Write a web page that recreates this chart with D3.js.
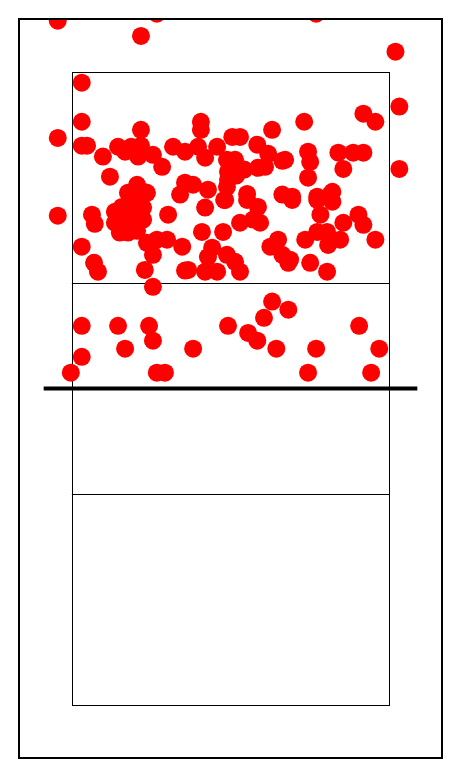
<!DOCTYPE html>
<html><head><meta charset="utf-8">
<script src="https://cdn.jsdelivr.net/npm/d3@7"></script>
<style>html,body{margin:0;padding:0;background:#fff;}</style>
</head><body>
<svg id="c" width="460" height="777"></svg>
<script>
// court geometry (meters)
const courtWidth = 9, courtLength = 18;
const attackLines = [6, 12];
const netY = 9, netExtent = [-0.8, 9.8];
const xDomain = [-1.5, 10.5], yDomain = [-1.5, 19.5];

// dot positions (meters): x across court, y along court from top baseline
const dotX = [-0.40,2.41,6.93,1.96,9.18,0.28,9.29,-0.40,9.29,-0.40,
0.28,1.96,3.66,3.66,5.68,6.59,8.27,8.61,0.28,0.43,
0.88,1.08,1.31,1.51,1.68,1.88,1.96,2.30,2.56,2.87,
3.21,3.58,3.78,4.12,4.40,4.55,4.77,4.63,5.26,5.57,
5.97,5.28,5.48,4.43,4.43,4.66,4.89,3.44,3.86,3.21,
4.32,4.97,5.97,4.40,6.05,6.70,6.76,7.56,7.98,8.27,
7.70,6.70,6.25,6.96,7.39,1.85,2.02,1.68,1.59,1.93,
2.13,0.28,0.57,0.65,0.63,0.74,1.42,1.65,2.02,1.22,
1.36,1.59,1.79,2.13,2.41,2.70,2.30,2.07,2.30,2.73,
3.07,3.13,3.21,3.78,4.35,4.97,5.28,4.77,5.34,5.14,
3.69,4.29,3.98,3.86,4.40,4.63,4.77,3.30,3.78,4.12,
5.63,5.85,5.97,6.14,6.25,6.96,7.33,7.39,7.05,7.70,
8.13,8.27,8.61,6.96,7.24,7.61,6.62,7.27,6.19,6.76,
7.24,1.22,1.65,2.02,1.85,
-0.03,0.28,0.28,1.31,1.51,2.19,2.30,2.41,2.64,3.44,
4.43,5.00,5.26,5.45,5.68,6.14,5.80,6.70,6.93,8.15,
8.49,8.72];
const dotY = [-1.45,-1.65,-1.65,-1.02,-0.57,0.31,0.99,1.88,2.76,4.09,
1.42,1.65,1.42,1.65,1.65,1.42,1.19,1.42,2.10,2.10,
2.41,2.98,2.13,2.27,2.13,2.41,2.10,2.36,2.70,2.13,
2.27,2.13,2.44,2.13,2.50,1.85,1.85,2.50,2.07,2.33,
2.53,2.73,2.70,2.84,3.07,2.95,2.78,3.21,3.35,3.15,
3.64,3.47,3.49,3.27,2.50,2.27,2.56,2.30,2.30,2.30,
2.76,3.01,3.55,3.55,3.41,3.21,3.41,3.49,3.44,3.44,
3.44,4.97,4.06,4.32,5.43,5.68,3.84,3.84,3.86,4.29,
4.57,4.57,4.35,4.86,4.77,4.77,5.20,5.63,6.11,4.06,
3.49,4.97,5.65,3.86,3.64,3.64,3.84,4.29,4.29,4.20,
4.55,4.55,5.00,5.26,5.20,5.40,5.68,5.63,5.68,5.68,
4.97,4.77,5.20,5.43,3.64,3.64,3.49,3.69,4.06,4.29,
4.06,4.35,4.77,4.55,4.55,4.77,4.77,4.92,5.34,5.43,
5.68,3.98,4.20,4.20,4.52,
8.55,8.10,7.22,7.22,7.87,7.22,7.64,8.55,8.55,7.87,
7.22,7.42,7.64,6.99,6.53,6.76,7.87,8.55,7.87,7.22,
8.55,7.87];

const svg = d3.select('#c');
const x = d3.scaleLinear().domain(xDomain).range([19, 442]);
const y = d3.scaleLinear().domain(yDomain).range([19, 758]);

svg.append('defs').append('clipPath').attr('id','clip')
  .append('rect').attr('x',x(xDomain[0])).attr('y',y(yDomain[0]))
  .attr('width',x(xDomain[1])-x(xDomain[0])).attr('height',y(yDomain[1])-y(yDomain[0]));

const g = svg.append('g').attr('clip-path','url(#clip)');

// court outline
g.append('rect').attr('x',Math.round(x(0))+0.5).attr('y',Math.round(y(0))+0.5)
  .attr('width',Math.round(x(courtWidth)-x(0))).attr('height',Math.round(y(courtLength)-y(0)))
  .attr('fill','none').attr('stroke','#000').attr('stroke-width',1);
attackLines.forEach(a => {
  g.append('line').attr('x1',x(0)).attr('x2',x(courtWidth))
    .attr('y1',Math.round(y(a))+0.5).attr('y2',Math.round(y(a))+0.5).attr('stroke','#000').attr('stroke-width',1);
});
// net
g.append('line').attr('x1',x(netExtent[0])).attr('x2',x(netExtent[1]))
  .attr('y1',y(netY)).attr('y2',y(netY)).attr('stroke','#000').attr('stroke-width',4);

// dots
const pts = dotX.map((d,i)=>({x:d,y:dotY[i]}));
g.selectAll('circle').data(pts).enter().append('circle')
  .attr('cx',d=>x(d.x)).attr('cy',d=>y(d.y)).attr('r',9).attr('fill','#ff0000');

// frame
svg.append('rect').attr('x',x(xDomain[0])).attr('y',y(yDomain[0]))
  .attr('width',x(xDomain[1])-x(xDomain[0])).attr('height',y(yDomain[1])-y(yDomain[0]))
  .attr('fill','none').attr('stroke','#000').attr('stroke-width',2);
</script>
</body></html>
